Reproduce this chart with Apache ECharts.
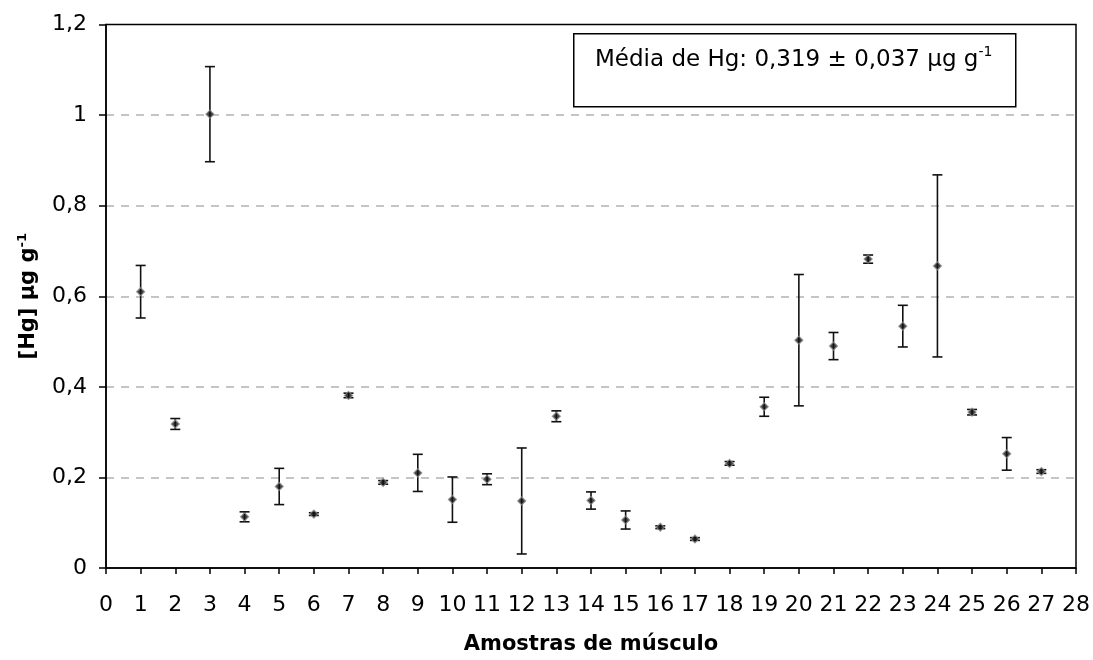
<!DOCTYPE html>
<html>
<head>
<meta charset="utf-8">
<script src="https://cdn.jsdelivr.net/npm/echarts@6/dist/echarts.min.js"></script>
<style>
html,body{margin:0;padding:0;background:#fff;}
#chart{width:1093px;height:660px;}
</style>
</head>
<body>
<div id="chart"></div>
<script>
var samples = [1,2,3,4,5,6,7,8,9,10,11,12,13,14,15,16,17,18,19,20,21,22,23,24,25,26,27];
var means = [0.610,0.318,1.002,0.113,0.180,0.119,0.381,0.189,0.210,0.151,0.196,0.148,0.335,0.149,0.106,0.090,0.064,0.231,0.356,0.503,0.490,0.682,0.534,0.667,0.344,0.252,0.213];
var errors = [0.058,0.012,0.105,0.011,0.040,0.003,0.005,0.004,0.041,0.050,0.012,0.117,0.012,0.019,0.020,0.003,0.003,0.004,0.021,0.145,0.030,0.009,0.046,0.201,0.006,0.036,0.004];
var yTickLabels = ['0','0,2','0,4','0,6','0,8','1','1,2'];
var xTickLabels = ['0','1','2','3','4','5','6','7','8','9','10','11','12','13','14','15','16','17','18','19','20','21','22','23','24','25','26','27','28'];

var pointData = samples.map(function(s,i){return [s, means[i]];});
var errData = samples.map(function(s,i){return [s, means[i]-errors[i], means[i]+errors[i]];});

var FONT = '"DejaVu Sans", "Liberation Sans", sans-serif';
var chart = echarts.init(document.getElementById('chart'));
chart.setOption({
  animation:false,
  backgroundColor:'#fff',
  grid:{left:106,right:15,top:24.5,bottom:89,show:true,borderColor:'#000',borderWidth:1.5,backgroundColor:'transparent',z:5},
  xAxis:{
    type:'value',min:0,max:28,interval:1,
    name:'Amostras de músculo',nameLocation:'middle',nameGap:66,
    nameTextStyle:{fontFamily:FONT,fontSize:21,fontWeight:'bold',color:'#000'},
    axisLine:{show:true,lineStyle:{color:'#000',width:1.5}},
    axisTick:{show:true,length:6,lineStyle:{color:'#000',width:1.5}},
    axisLabel:{margin:26,fontFamily:FONT,fontSize:22,color:'#000',
      formatter:function(v){return xTickLabels[Math.round(v)];}},
    splitLine:{show:false}
  },
  yAxis:{
    type:'value',min:0,max:1.2,interval:0.2,
    name:'{a|[Hg] μg g}{s|-1}',nameLocation:'middle',nameGap:64,nameRotate:90,
    nameTextStyle:{fontFamily:FONT,color:'#000',
      rich:{a:{fontFamily:FONT,fontSize:21,fontWeight:'bold',color:'#000',lineHeight:26},
            s:{fontFamily:FONT,fontSize:13,fontWeight:'bold',color:'#000',verticalAlign:'top',lineHeight:26}}},
    axisLine:{show:true,lineStyle:{color:'#000',width:1.5}},
    axisTick:{show:true,length:7,lineStyle:{color:'#000',width:1.5}},
    axisLabel:{margin:19,fontFamily:FONT,fontSize:22,color:'#000',
      formatter:function(v){return yTickLabels[Math.round(v/0.2)];}},
    splitLine:{show:true,showMinLine:false,showMaxLine:false,lineStyle:{color:'#b3b3b3',width:1.5,type:[8,7]}}
  },
  series:[
    {
      type:'custom',
      data:errData,
      z:2,
      renderItem:function(params,api){
        var x=api.value(0),lo=api.value(1),hi=api.value(2);
        var pLo=api.coord([x,lo]),pHi=api.coord([x,hi]);
        var hw=5;
        var st={stroke:'#111',lineWidth:1.6};
        return {type:'group',children:[
          {type:'line',shape:{x1:pLo[0],y1:pLo[1],x2:pHi[0],y2:pHi[1]},style:st},
          {type:'line',shape:{x1:pLo[0]-hw,y1:pLo[1],x2:pLo[0]+hw,y2:pLo[1]},style:st},
          {type:'line',shape:{x1:pHi[0]-hw,y1:pHi[1],x2:pHi[0]+hw,y2:pHi[1]},style:st}
        ]};
      }
    },
    {
      type:'scatter',
      data:pointData,
      symbol:'diamond',symbolSize:8,z:3,
      itemStyle:{color:'#111',borderColor:'#8a8a8a',borderWidth:1.2}
    }
  ],
  graphic:[
    {type:'rect',left:573,top:33,shape:{width:442,height:73},
     style:{fill:'#fff',stroke:'#000',lineWidth:1.5},z:10},
    {type:'text',left:595,top:45,z:11,
     style:{text:'{a|Média de Hg: 0,319 ± 0,037 μg g}{s|-1}',
       rich:{a:{fontFamily:FONT,fontSize:23,color:'#000',lineHeight:30},
             s:{fontFamily:FONT,fontSize:14,color:'#000',verticalAlign:'top',lineHeight:30}}}}
  ]
});
</script>
</body>
</html>
